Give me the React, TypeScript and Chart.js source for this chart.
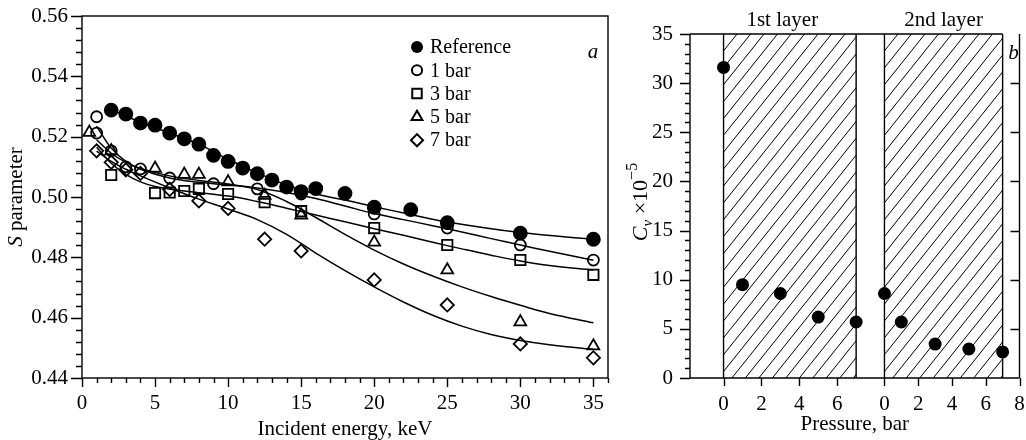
import React, { useEffect, useRef } from 'react';
import { Chart, registerables } from 'chart.js';

Chart.register(...registerables);

const FONT = '"Liberation Serif", "Times New Roman", serif';
Chart.defaults.font.family = FONT;
Chart.defaults.color = '#000';

// ---------- Panel a: S parameter vs incident energy ----------
const refE = [2, 3, 4, 5, 6, 7, 8, 9, 10, 11, 12, 13, 14, 15, 16, 18, 20, 22.5, 25, 30, 35];
const refS = [0.5288, 0.5275, 0.5245, 0.5238, 0.5212, 0.5193, 0.5175, 0.5138, 0.5118, 0.5096, 0.5077, 0.5056, 0.5033, 0.5018, 0.5028, 0.5012, 0.4966, 0.4958, 0.4915, 0.488, 0.486];

const bar1E = [1, 1, 2, 3, 4, 6, 9, 12, 15, 20, 25, 30, 35];
const bar1S = [0.5266, 0.5212, 0.5153, 0.51, 0.5093, 0.5063, 0.5044, 0.5027, 0.501, 0.4944, 0.4897, 0.4841, 0.4791];

const bar3E = [2, 5, 6, 7, 8, 10, 12.5, 15, 20, 25, 30, 35];
const bar3S = [0.5073, 0.5013, 0.5015, 0.502, 0.5027, 0.501, 0.4983, 0.4953, 0.4897, 0.4841, 0.4791, 0.4742];

const bar5E = [0.5, 2, 5, 7, 8, 10, 12.5, 15, 20, 25, 30, 35];
const bar5S = [0.5214, 0.5153, 0.5095, 0.5075, 0.5075, 0.505, 0.5005, 0.494, 0.485, 0.4758, 0.4586, 0.4506];

const bar7E = [1, 2, 3, 4, 6, 8, 10, 12.5, 15, 20, 25, 30, 35];
const bar7S = [0.5153, 0.5115, 0.509, 0.5078, 0.5025, 0.4987, 0.4962, 0.486, 0.4821, 0.4725, 0.4642, 0.4513, 0.4467];

// fitted curves
const refFitE = [2, 4, 6, 8, 10, 12, 14, 16, 18, 20, 22.5, 25, 30, 35];
const refFitS = [0.529, 0.5248, 0.5212, 0.5175, 0.5125, 0.508, 0.504, 0.501, 0.499, 0.4968, 0.4942, 0.4917, 0.4882, 0.486];
const bar1FitE = [1, 2, 3, 4, 6, 8, 10, 12, 14, 16, 18, 20, 22, 24, 26, 28, 30, 32, 35];
const bar1FitS = [0.5235, 0.5162, 0.5118, 0.5092, 0.5063, 0.5049, 0.504, 0.503, 0.5015, 0.4995, 0.497, 0.4945, 0.4925, 0.4905, 0.4884, 0.4862, 0.4841, 0.482, 0.479];
const bar3FitE = [1, 2, 3, 4, 5, 7, 10, 12, 14, 16, 18, 20, 22, 24, 26, 28, 30, 32, 35];
const bar3FitS = [0.5165, 0.5112, 0.5075, 0.505, 0.5035, 0.502, 0.5003, 0.4985, 0.4963, 0.494, 0.4918, 0.4895, 0.4873, 0.485, 0.4828, 0.4807, 0.4788, 0.4773, 0.4758];
const bar5FitE = [1, 2, 3, 4, 6, 8, 10, 12, 14, 16, 18, 20, 22, 24, 26, 28, 30, 32, 35];
const bar5FitS = [0.519, 0.5145, 0.5115, 0.5095, 0.507, 0.5055, 0.5043, 0.5025, 0.4985, 0.4932, 0.4876, 0.4824, 0.4778, 0.4738, 0.4702, 0.467, 0.4641, 0.4614, 0.4583];
const bar7FitE = [1, 2, 3, 4, 6, 8, 10, 12, 14, 16, 18, 20, 22, 24, 26, 28, 30, 32, 35];
const bar7FitS = [0.5152, 0.5118, 0.5092, 0.507, 0.503, 0.4993, 0.496, 0.4925, 0.4876, 0.4814, 0.4756, 0.4702, 0.4652, 0.4608, 0.4572, 0.4544, 0.4524, 0.451, 0.4495];

const seriesLabels = ['Reference', '1 bar', '3 bar', '5 bar', '7 bar'];
const seriesStyles = ['circle', 'circle', 'rect', 'triangle', 'rectRot'];
const seriesFilled = [true, false, false, false, false];
const seriesRadius = [6.5, 5.5, 7.3, 6.8, 6.6];

// ---------- Panel b: Cv vs pressure ----------
const pressure1 = [0, 1, 3, 5, 7];
const cv1 = [31.6, 9.5, 8.6, 6.2, 5.7];
const pressure2 = [0, 1, 3, 5, 7];
const cv2 = [8.6, 5.7, 3.45, 2.95, 2.65];
const layerRange = [0, 7];
const layerNames = ['1st layer', '2nd layer'];
const pressureTicks1 = [0, 2, 4, 6];
const pressureTicks2 = [0, 2, 4, 6, 8];

const pts = (xs: number[], ys: number[]) => xs.map((x, i) => ({ x, y: ys[i] }));

function markerPath(ctx: CanvasRenderingContext2D, style: string, x: number, y: number, r: number) {
  ctx.beginPath();
  if (style === 'circle') {
    ctx.arc(x, y, r, 0, Math.PI * 2);
  } else if (style === 'rect') {
    const s = r * Math.SQRT1_2;
    ctx.rect(x - s, y - s, 2 * s, 2 * s);
  } else if (style === 'triangle') {
    for (let k = 0; k < 3; k++) {
      const a = (k * 2 * Math.PI) / 3;
      const px = x + Math.sin(a) * r;
      const py = y - Math.cos(a) * r;
      if (k === 0) ctx.moveTo(px, py);
      else ctx.lineTo(px, py);
    }
    ctx.closePath();
  } else {
    ctx.moveTo(x, y - r);
    ctx.lineTo(x + r, y);
    ctx.lineTo(x, y + r);
    ctx.lineTo(x - r, y);
    ctx.closePath();
  }
}

function drawRich(ctx: CanvasRenderingContext2D, parts: { t: string; f: string; dy: number }[], cx: number, cy: number, rot: number) {
  ctx.save();
  ctx.translate(cx, cy);
  ctx.rotate(rot);
  ctx.textBaseline = 'alphabetic';
  ctx.textAlign = 'left';
  let w = 0;
  parts.forEach((p) => {
    ctx.font = p.f;
    w += ctx.measureText(p.t).width;
  });
  let x = -w / 2;
  parts.forEach((p) => {
    ctx.font = p.f;
    ctx.fillText(p.t, x, p.dy);
    x += ctx.measureText(p.t).width;
  });
  ctx.restore();
}

const zeroPad = (s: any) => {
  s.paddingTop = 0;
  s.paddingBottom = 0;
  s.paddingLeft = 0;
  s.paddingRight = 0;
};

const leftPlugin = {
  id: 'leftDecor',
  afterDraw(chart: any) {
    const ctx = chart.ctx as CanvasRenderingContext2D;
    const { left, right, top, bottom } = chart.chartArea;
    const xs = chart.scales.x;
    const ys = chart.scales.y;
    ctx.save();
    ctx.strokeStyle = '#000';
    ctx.fillStyle = '#000';
    ctx.lineWidth = 1.4;
    ctx.strokeRect(left, top, right - left, bottom - top);
    ctx.beginPath();
    ys.ticks.forEach((t: any) => {
      const py = Math.round(ys.getPixelForValue(t.value)) + 0.5;
      const major = Math.round(t.value * 1000) % 20 === 0;
      ctx.moveTo(left - (major ? 11 : 6), py);
      ctx.lineTo(left, py);
    });
    xs.ticks.forEach((t: any) => {
      const px = Math.round(xs.getPixelForValue(t.value)) + 0.5;
      const major = t.value % 5 === 0 && t.value <= 35;
      ctx.moveTo(px, bottom);
      ctx.lineTo(px, bottom + (major ? 9 : 5));
    });
    ctx.stroke();

    drawRich(ctx, [{ t: 'Incident energy, keV', f: `21px ${FONT}`, dy: 7 }], (left + right) / 2, 428, 0);
    drawRich(ctx, [
      { t: 'S', f: `italic 21px ${FONT}`, dy: 7 },
      { t: ' parameter', f: `21px ${FONT}`, dy: 7 },
    ], 15, (top + bottom) / 2, -Math.PI / 2);

    ctx.font = `italic 21px ${FONT}`;
    ctx.textAlign = 'center';
    ctx.textBaseline = 'middle';
    ctx.fillText('a', right - 15, top + 36);

    const lx = 417;
    const ly0 = 47;
    const dy = 23.3;
    seriesLabels.forEach((lab, i) => {
      const y = ly0 + i * dy;
      ctx.lineWidth = 2;
      markerPath(ctx, seriesStyles[i], lx, y, seriesRadius[i] * 0.92);
      if (seriesFilled[i]) ctx.fill();
      else ctx.stroke();
      ctx.font = `20px ${FONT}`;
      ctx.textAlign = 'left';
      ctx.textBaseline = 'middle';
      ctx.fillText(lab, lx + 13, y + 1);
    });
    ctx.restore();
  },
};

const rightPlugin = {
  id: 'rightDecor',
  beforeDatasetsDraw(chart: any) {
    const ctx = chart.ctx as CanvasRenderingContext2D;
    const { top, bottom } = chart.chartArea;
    const scalesList = [chart.scales.x, chart.scales.x2];
    ctx.save();
    scalesList.forEach((sc: any) => {
      const x0 = sc.getPixelForValue(layerRange[0]);
      const x1 = sc.getPixelForValue(layerRange[1]);
      ctx.save();
      ctx.beginPath();
      ctx.rect(x0, top, x1 - x0, bottom - top);
      ctx.clip();
      ctx.strokeStyle = '#000';
      ctx.lineWidth = 1;
      const h = bottom - top;
      const slope = 1.25;
      const step = 13.5;
      ctx.beginPath();
      for (let bx = x0 - h / slope; bx < x1 + 5; bx += step) {
        ctx.moveTo(bx, bottom);
        ctx.lineTo(bx + h / slope, top);
      }
      ctx.stroke();
      ctx.restore();
      ctx.strokeStyle = '#000';
      ctx.lineWidth = 1.4;
      ctx.beginPath();
      ctx.moveTo(x0, top);
      ctx.lineTo(x0, bottom);
      ctx.moveTo(x1, top);
      ctx.lineTo(x1, bottom);
      ctx.stroke();
    });
    ctx.restore();
  },
  afterDraw(chart: any) {
    const ctx = chart.ctx as CanvasRenderingContext2D;
    const { left, right, top, bottom } = chart.chartArea;
    const ys = chart.scales.y;
    const s1 = chart.scales.x;
    const s2 = chart.scales.x2;
    ctx.save();
    ctx.strokeStyle = '#000';
    ctx.fillStyle = '#000';
    ctx.lineWidth = 1.4;
    ctx.beginPath();
    ctx.moveTo(left, top);
    ctx.lineTo(left, bottom);
    ctx.lineTo(right, bottom);
    ctx.moveTo(left, top);
    ctx.lineTo(s2.getPixelForValue(layerRange[1]), top);
    ctx.moveTo(right, top);
    ctx.lineTo(right, bottom);
    ctx.stroke();
    ctx.beginPath();
    ys.ticks.forEach((t: any) => {
      const py = Math.round(ys.getPixelForValue(t.value)) + 0.5;
      const major = t.value % 5 === 0;
      ctx.moveTo(left - (major ? 10 : 5), py);
      ctx.lineTo(left, py);
      if (major && t.value > 0 && t.value < 35) {
        ctx.moveTo(right - 9, py);
        ctx.lineTo(right, py);
      }
    });
    const xt = [
      ...pressureTicks1.map((v) => s1.getPixelForValue(v)),
      ...pressureTicks2.map((v) => s2.getPixelForValue(v)),
    ];
    xt.forEach((px) => {
      ctx.moveTo(Math.round(px) + 0.5, bottom);
      ctx.lineTo(Math.round(px) + 0.5, bottom + 8);
    });
    ctx.stroke();

    ctx.font = `21px ${FONT}`;
    ctx.textAlign = 'center';
    ctx.textBaseline = 'middle';
    pressureTicks1.forEach((v) => ctx.fillText(String(v), s1.getPixelForValue(v), 404));
    pressureTicks2.forEach((v) => ctx.fillText(String(v), s2.getPixelForValue(v), 404));
    ctx.fillText(layerNames[0], s1.getPixelForValue(3.1), 20);
    ctx.fillText(layerNames[1], s2.getPixelForValue(3.5), 20);
    ctx.font = `italic 21px ${FONT}`;
    ctx.fillText('b', right - 6, top + 19);

    drawRich(ctx, [{ t: 'Pressure, bar', f: `21px ${FONT}`, dy: 7 }], (left + right) / 2, 423, 0);
    drawRich(ctx, [
      { t: 'C', f: `italic 22px ${FONT}`, dy: 7 },
      { t: 'v', f: `italic 15px ${FONT}`, dy: 12 },
      { t: ' \u00d710', f: `22px ${FONT}`, dy: 7 },
      { t: '\u22125', f: `16px ${FONT}`, dy: -3 },
    ], 20, (top + bottom) / 2 - 4, -Math.PI / 2);
    ctx.restore();
  },
};

function LeftChart() {
  const ref = useRef<HTMLCanvasElement | null>(null);
  useEffect(() => {
    if (!ref.current) return;
    const fit = (xs: number[], ys: number[]) => ({
      data: pts(xs, ys),
      showLine: true,
      pointRadius: 0,
      borderColor: '#000',
      borderWidth: 1.5,
      tension: 0.4,
      fill: false,
    });
    const markerSets = [
      [refE, refS],
      [bar1E, bar1S],
      [bar3E, bar3S],
      [bar5E, bar5S],
      [bar7E, bar7S],
    ].map(([xs, ys], i) => ({
      label: seriesLabels[i],
      data: pts(xs, ys),
      showLine: false,
      pointStyle: seriesStyles[i],
      pointRadius: seriesRadius[i],
      pointBorderWidth: 1.8,
      pointBorderColor: '#000',
      pointBackgroundColor: seriesFilled[i] ? '#000' : 'rgba(0,0,0,0)',
    }));
    const chart = new Chart(ref.current, {
      type: 'scatter',
      data: {
        datasets: [
          fit(refFitE, refFitS),
          fit(bar1FitE, bar1FitS),
          fit(bar3FitE, bar3FitS),
          fit(bar5FitE, bar5FitS),
          fit(bar7FitE, bar7FitS),
          ...markerSets,
        ] as any,
      },
      options: {
        responsive: false,
        animation: false,
        layout: { padding: { top: 16, right: 12, left: 0, bottom: 0 } },
        plugins: { legend: { display: false }, tooltip: { enabled: false } },
        scales: {
          x: {
            type: 'linear',
            min: 0,
            max: 36,
            afterFit: (s: any) => { s.height = 62; zeroPad(s); },
            grid: { display: false, drawTicks: false },
            border: { display: false },
            ticks: {
              stepSize: 1,
              autoSkip: false,
              maxRotation: 0,
              padding: 13,
              color: '#000',
              font: { family: FONT, size: 21 },
              callback: (v: any) => (v % 5 === 0 && v <= 35 ? String(v) : ''),
            },
          },
          y: {
            type: 'linear',
            min: 0.44,
            max: 0.56,
            afterFit: (s: any) => { s.width = 82; zeroPad(s); },
            grid: { display: false, drawTicks: false },
            border: { display: false },
            ticks: {
              stepSize: 0.004,
              autoSkip: false,
              padding: 14,
              color: '#000',
              font: { family: FONT, size: 21 },
              callback: (v: any) => {
                const m = Math.round(v * 1000);
                return m % 20 === 0 ? (m / 1000).toFixed(2) : '';
              },
            },
          },
        },
      } as any,
      plugins: [leftPlugin],
    });
    return () => chart.destroy();
  }, []);
  return <canvas ref={ref} width={620} height={440} style={{ position: 'absolute', left: 0, top: 0, width: 620, height: 440 }} />;
}

function RightChart() {
  const ref = useRef<HTMLCanvasElement | null>(null);
  useEffect(() => {
    if (!ref.current) return;
    const common = {
      showLine: false,
      pointStyle: 'circle',
      pointRadius: 6.5,
      pointBorderWidth: 0,
      pointBackgroundColor: '#000',
      pointBorderColor: '#000',
    };
    const chart = new Chart(ref.current, {
      type: 'scatter',
      data: {
        datasets: [
          { ...common, label: layerNames[0], data: pts(pressure1, cv1), xAxisID: 'x' },
          { ...common, label: layerNames[1], data: pts(pressure2, cv2), xAxisID: 'x2' },
        ] as any,
      },
      options: {
        responsive: false,
        animation: false,
        clip: false,
        layout: { padding: { top: 34, right: 2, left: 0, bottom: 62 } },
        plugins: { legend: { display: false }, tooltip: { enabled: false } },
        scales: {
          x: { type: 'linear', position: 'bottom', display: false, min: -1.771, max: 15.625 },
          x2: { type: 'linear', position: 'bottom', display: false, min: -11.52, max: 8 },
          y: {
            type: 'linear',
            min: 0,
            max: 35,
            afterFit: (s: any) => { s.width = 70; zeroPad(s); },
            grid: { display: false, drawTicks: false },
            border: { display: false },
            ticks: {
              stepSize: 1,
              autoSkip: false,
              padding: 17,
              color: '#000',
              font: { family: FONT, size: 21 },
              callback: (v: any) => (v % 5 === 0 ? String(v) : ''),
            },
          },
        },
      } as any,
      plugins: [rightPlugin],
    });
    return () => chart.destroy();
  }, []);
  return <canvas ref={ref} width={406} height={440} style={{ position: 'absolute', left: 620, top: 0, width: 406, height: 440 }} />;
}

export default function App() {
  return (
    <div style={{ position: 'fixed', left: 0, top: 0, width: 1026, height: 440, background: '#fff', overflow: 'hidden' }}>
      <LeftChart />
      <RightChart />
    </div>
  );
}
